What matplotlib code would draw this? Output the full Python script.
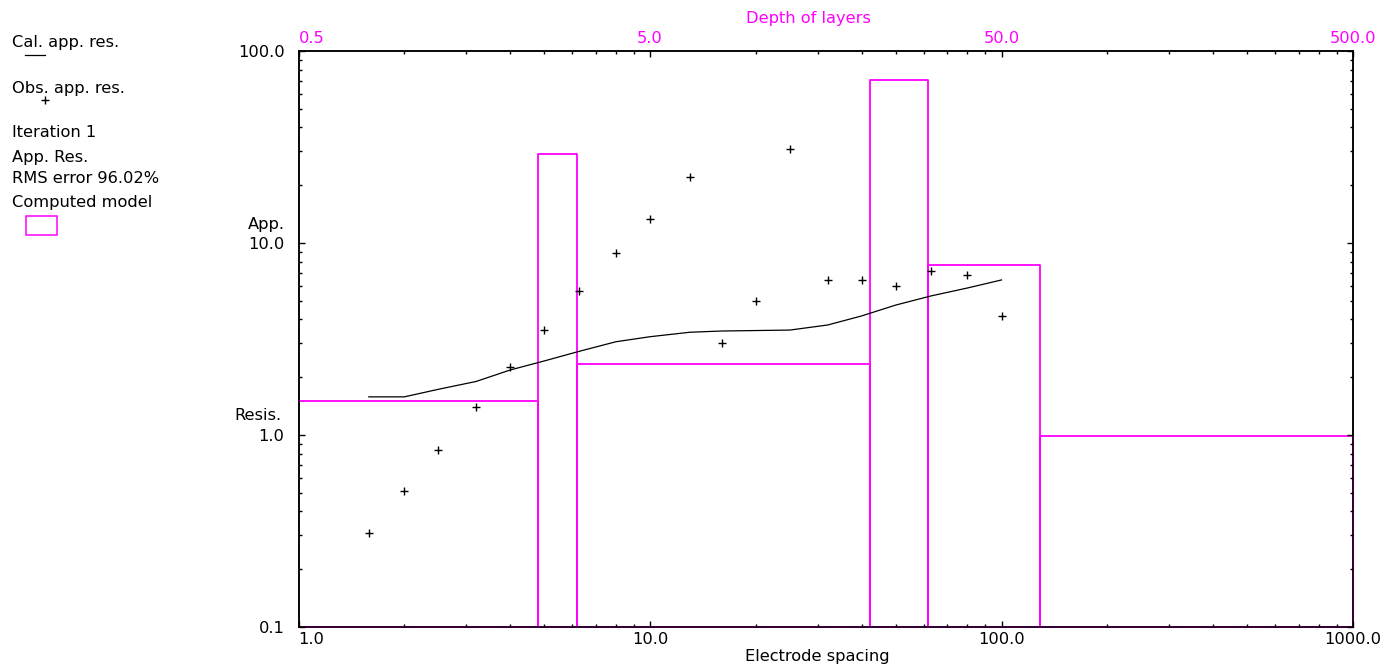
import matplotlib
matplotlib.use('Agg')
import matplotlib.pyplot as plt
from matplotlib.lines import Line2D
from matplotlib.patches import Rectangle
from matplotlib.ticker import NullFormatter

# electrode spacing (AB/2) of the sounding
spacing = [1.585, 2.0, 2.5, 3.2, 4.0, 5.0, 6.3, 8.0, 10.0, 13.0,
           16.0, 20.0, 25.0, 32.0, 40.0, 50.0, 63.0, 80.0, 100.0]
# observed apparent resistivity
obs_res = [0.31, 0.51, 0.84, 1.40, 2.25, 3.52, 5.62, 8.87, 13.3, 22.1,
           3.01, 4.99, 30.9, 6.42, 6.42, 5.97, 7.14, 6.81, 4.17]
# calculated apparent resistivity
cal_res = [1.58, 1.58, 1.73, 1.90, 2.18, 2.43, 2.73, 3.06, 3.25, 3.43,
           3.48, 3.50, 3.52, 3.74, 4.17, 4.75, 5.30, 5.83, 6.42]
# computed model: bottom depth of layers 1-5, resistivity of layers 1-6
layer_depth = [2.405, 3.106, 21.06, 30.96, 64.2]
layer_res = [1.503, 28.97, 2.35, 70.6, 7.71, 0.988]

MAG = '#ff00ff'
plt.rcParams['font.family'] = ['DejaVu Sans']
plt.rcParams['font.size'] = 11.7

W, H = 1393, 671
fig = plt.figure(figsize=(W / 100, H / 100), dpi=100)

def fx(x):
    return x / W

def fy(y):
    return 1 - y / H

ax = fig.add_axes([fx(298.5), fy(627), (1353 - 298.5) / W, (627 - 51) / H])
ax.set_xscale('log')
ax.set_yscale('log')
ax.set_xlim(1, 1000)
ax.set_ylim(0.1, 100)

ax.plot(spacing, cal_res, color='black', lw=0.9)
ax.plot(spacing, obs_res, '+', color='black', ms=6, mew=1)

ax.set_xticks([1, 10, 100, 1000])
ax.set_xticklabels(['1.0', '10.0', '100.0', '1000.0'])
ax.set_yticks([0.1, 1, 10, 100])
ax.set_yticklabels(['0.1', '1.0', '10.0', '100.0'])
ax.xaxis.set_minor_formatter(NullFormatter())
ax.yaxis.set_minor_formatter(NullFormatter())
ax.tick_params(which='both', direction='in', right=True, top=False, width=1)
ax.tick_params(which='major', length=4.5)
ax.tick_params(which='minor', length=2.3)
ax.tick_params(axis='x', which='both', pad=3.5)
ax.tick_params(axis='y', which='both', pad=10)
ax.get_xticklabels()[0].set_ha('left')

# model on depth axis (top)
ax2 = ax.twiny()
ax2.set_xscale('log')
ax2.set_xlim(0.5, 500)
tops = [0.5] + layer_depth
bots = layer_depth + [500]
for i, (t, b, r) in enumerate(zip(tops, bots, layer_res)):
    if i == 0:
        xs, ys = [t, b, b, t], [r, r, 0.1, 0.1]
    else:
        xs, ys = [t, t, b, b, t], [0.1, r, r, 0.1, 0.1]
    ax2.plot(xs, ys, color=MAG, lw=1.3, zorder=3, clip_on=False)

ax2.set_xticks([0.5, 5, 50, 500])
ax2.set_xticklabels(['0.5', '5.0', '50.0', '500.0'])
ax2.set_xticks([0.5 * s * 10 ** k for k in range(3) for s in range(2, 10)], minor=True)
ax2.xaxis.set_minor_formatter(NullFormatter())
ax2.tick_params(axis='x', which='both', direction='in', labelcolor=MAG, pad=3.8, width=1)
ax2.tick_params(axis='x', which='major', length=4.5)
ax2.tick_params(axis='x', which='minor', length=2.3)
ax2.get_xticklabels()[0].set_ha('left')

# measured curves drawn above the model
ax.set_zorder(ax2.get_zorder() + 1)
ax.patch.set_visible(False)

for a in (ax, ax2):
    for s in a.spines.values():
        s.set_linewidth(1.1)

# axis titles
fig.text(fx(817), fy(661.5), 'Electrode spacing', ha='center', va='baseline')
fig.text(fx(808), fy(23.5), 'Depth of layers', ha='center', va='baseline', color=MAG)
fig.text(fx(285), fy(229), 'App.', ha='right', va='baseline')
fig.text(fx(281), fy(419.5), 'Resis.', ha='right', va='baseline')

# legend panel
fig.text(fx(12), fy(47.3), 'Cal. app. res.', va='baseline')
fig.add_artist(Line2D([fx(25), fx(45)], [fy(55), fy(55)], color='black', lw=0.9))
fig.text(fx(12), fy(92.7), 'Obs. app. res.', va='baseline')
fig.add_artist(Line2D([fx(45)], [fy(100)], marker='+', color='black', ms=6, mew=1))
fig.text(fx(12), fy(136.7), 'Iteration 1', va='baseline')
fig.text(fx(12), fy(161.7), 'App. Res.', va='baseline')
fig.text(fx(12), fy(182.7), 'RMS error 96.02%', va='baseline')
fig.text(fx(12), fy(206.7), 'Computed model', va='baseline')
fig.add_artist(Rectangle((fx(26), fy(234.5)), (57 - 26) / W, (234.5 - 216) / H,
                         fill=False, edgecolor=MAG, lw=1.1))

fig.savefig('out.png', dpi=100)
